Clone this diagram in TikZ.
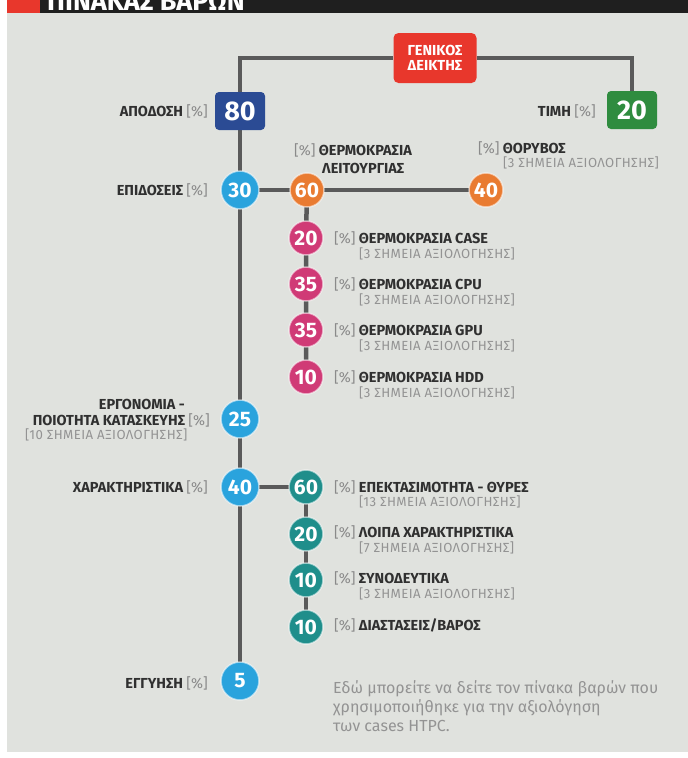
\documentclass[tikz,border=0pt]{standalone}
\usepackage{fontspec}
\setmainfont{Fira Sans}
\definecolor{panel}{HTML}{E0E2DE}
\definecolor{linegray}{HTML}{5A5A5A}
\definecolor{genred}{HTML}{E8372C}
\definecolor{dblue}{HTML}{2B4B94}
\definecolor{dgreen}{HTML}{2F8C3F}
\definecolor{lblue}{HTML}{2AA3DD}
\definecolor{orng}{HTML}{E97B31}
\definecolor{magen}{HTML}{D03A76}
\definecolor{teal2}{HTML}{1F8E8B}
\definecolor{txtdark}{HTML}{303030}
\definecolor{pctgray}{HTML}{8A8A8A}
\definecolor{subgray}{HTML}{939393}
\newcommand{\pct}{\textcolor{pctgray}{\mdseries[\%]}}
\pgfdeclarelayer{bg}
\pgfdeclarelayer{lines}
\pgfsetlayers{bg,lines,main}
\tikzset{
  conn/.style={draw=linegray, line width=4.5pt},
  numc/.style={circle, inner sep=0pt, text=white, draw=white, draw opacity=0.55, line width=1.5pt,
    font=\bfseries\fontsize{21}{21}\selectfont},
  mainc/.style={numc, fill=lblue, minimum size=38pt},
  orc/.style={numc, fill=orng, minimum size=34pt},
  pkc/.style={numc, fill=magen, minimum size=34pt},
  tlc/.style={numc, fill=teal2, minimum size=34pt},
  sqbox/.style={rounded corners=4pt, inner sep=0pt, minimum width=50pt, minimum height=38pt,
    text=white, font=\bfseries\fontsize{27}{27}\selectfont},
  lab/.style={inner sep=0pt, text=txtdark, font=\bfseries\fontsize{14.5}{16}\selectfont},
  sublab/.style={inner sep=0pt, text=subgray, font=\fontsize{13.2}{15}\selectfont\addfontfeatures{LetterSpace=3}},
  capt/.style={inner sep=0pt, text=subgray, font=\fontsize{16}{18}\selectfont, anchor=west},
}
\begin{document}
\begin{tikzpicture}[x=1pt, y=-1pt]
\useasboundingbox (0,0) rectangle (688,758);
% panel and header
\begin{pgfonlayer}{bg}
\fill[panel] (7,13) rectangle (688,752);
\fill[black!88] (7,0) rectangle (688,13);
\fill[genred] (7,0) rectangle (40,13);
\end{pgfonlayer}
\begin{scope}
  \clip (40,0) rectangle (688,13);
  \node[anchor=base west, inner sep=0pt, text=white, font=\bfseries\fontsize{27}{27}\selectfont] (title) at (47,10) {ΠΙΝΑΚΑΣ ΒΑΡΩΝ};
\end{scope}

% top level
\node[fill=genred, rounded corners=5pt, minimum width=83pt, minimum height=50pt, inner sep=0pt,
  text=white, align=center, font=\bfseries\fontsize{14.5}{15.5}\selectfont] (gen) at (435,58) {ΓΕΝΙΚΟΣ\\ΔΕΙΚΤΗΣ};
\node[sqbox, fill=dblue] (apod) at (240,111) {80};
\node[sqbox, fill=dgreen] (timi) at (632,110) {20};
\node[lab, anchor=east] (lapod) at (208,111) {ΑΠΟΔΟΣΗ \pct};
\node[lab, anchor=east] (ltimi) at (596,111) {ΤΙΜΗ \pct};

% main column
\node[mainc] (c30) at (240,190) {30};
\node[mainc] (c25) at (240,419) {25};
\node[mainc] (c40) at (240,487) {40};
\node[mainc] (c5) at (240,681) {5};
\node[lab, anchor=east] (l30) at (208,190) {ΕΠΙΔΟΣΕΙΣ \pct};
\node[lab, anchor=east] (l25a) at (185,404) {ΕΡΓΟΝΟΜΙΑ -};
\node[lab, anchor=east] (l25b) at (210,420) {ΠΟΙΟΤΗΤΑ ΚΑΤΑΣΚΕΥΗΣ \pct};
\node[sublab, anchor=west] (l25c) at (25,435) {[10 ΣΗΜΕΙΑ ΑΞΙΟΛΟΓΗΣΗΣ]};
\node[lab, anchor=east] (l40) at (208,487) {ΧΑΡΑΚΤΗΡΙΣΤΙΚΑ \pct};
\node[lab, anchor=east] (l5) at (208,683) {ΕΓΓΥΗΣΗ \pct};

% orange
\node[orc] (o60) at (307,190) {60};
\node[orc] (o40) at (486,190) {40};
\node[lab, anchor=west] (lo60a) at (294,150) {\pct{} ΘΕΡΜΟΚΡΑΣΙΑ};
\node[lab, anchor=west] (lo60b) at (322,168) {ΛΕΙΤΟΥΡΓΙΑΣ};
\node[lab, anchor=west] (lo40a) at (478,148) {\pct{} ΘΟΡΥΒΟΣ};
\node[sublab, anchor=west] (lo40b) at (503,163) {[3 ΣΗΜΕΙΑ ΑΞΙΟΛΟΓΗΣΗΣ]};

% pink
\node[pkc] (p20) at (306,238) {20};
\node[pkc] (p35a) at (306,284) {35};
\node[pkc] (p35b) at (306,330) {35};
\node[pkc] (p10) at (306,377) {10};
\node[lab, anchor=west] (lp20) at (334,238) {\pct{} ΘΕΡΜΟΚΡΑΣΙΑ CASE};
\node[sublab, anchor=west] (sp20) at (359,254) {[3 ΣΗΜΕΙΑ ΑΞΙΟΛΟΓΗΣΗΣ]};
\node[lab, anchor=west] (lp35a) at (334,284) {\pct{} ΘΕΡΜΟΚΡΑΣΙΑ CPU};
\node[sublab, anchor=west] (sp35a) at (359,300) {[3 ΣΗΜΕΙΑ ΑΞΙΟΛΟΓΗΣΗΣ]};
\node[lab, anchor=west] (lp35b) at (334,330) {\pct{} ΘΕΡΜΟΚΡΑΣΙΑ GPU};
\node[sublab, anchor=west] (sp35b) at (359,346) {[3 ΣΗΜΕΙΑ ΑΞΙΟΛΟΓΗΣΗΣ]};
\node[lab, anchor=west] (lp10) at (334,377) {\pct{} ΘΕΡΜΟΚΡΑΣΙΑ HDD};
\node[sublab, anchor=west] (sp10) at (359,393) {[3 ΣΗΜΕΙΑ ΑΞΙΟΛΟΓΗΣΗΣ]};

% teal
\node[tlc] (t60) at (306,487) {60};
\node[tlc] (t20) at (306,534) {20};
\node[tlc] (t10a) at (306,580) {10};
\node[tlc] (t10b) at (306,627) {10};
\node[lab, anchor=west] (lt60) at (334,487) {\pct{} ΕΠΕΚΤΑΣΙΜΟΤΗΤΑ - ΘΥΡΕΣ};
\node[sublab, anchor=west] (st60) at (359,502) {[13 ΣΗΜΕΙΑ ΑΞΙΟΛΟΓΗΣΗΣ]};
\node[lab, anchor=west] (lt20) at (334,532) {\pct{} ΛΟΙΠΑ ΧΑΡΑΚΤΗΡΙΣΤΙΚΑ};
\node[sublab, anchor=west] (st20) at (359,548) {[7 ΣΗΜΕΙΑ ΑΞΙΟΛΟΓΗΣΗΣ]};
\node[lab, anchor=west] (lt10a) at (334,578) {\pct{} ΣΥΝΟΔΕΥΤΙΚΑ};
\node[sublab, anchor=west] (st10a) at (359,594) {[3 ΣΗΜΕΙΑ ΑΞΙΟΛΟΓΗΣΗΣ]};
\node[lab, anchor=west] (lt10b) at (334,625) {\pct{} ΔΙΑΣΤΑΣΕΙΣ/ΒΑΡΟΣ};

% caption
\node[capt] (cap1) at (333,689) {Εδώ μπορείτε να δείτε τον πίνακα βαρών που};
\node[capt] (cap2) at (333,707.5) {χρησιμοποιήθηκε για την αξιολόγηση};
\node[capt] (cap3) at (333,726) {των cases HTPC.};

% connectors
\begin{pgfonlayer}{lines}
  \draw[conn] (apod.center) |- (gen.west);
  \draw[conn] (gen.east) -| (timi.center);
  \draw[conn] (apod.center) -- (c30.center) -- (c25.center) -- (c40.center) -- (c5.center);
  \draw[conn] (c30.center) -- (o60.center) -- (o40.center);
  \draw[conn] (o60.center) -- (p20.center) -- (p35a.center) -- (p35b.center) -- (p10.center);
  \draw[conn] (c40.center) -- (t60.center) -- (t20.center) -- (t10a.center) -- (t10b.center);
\end{pgfonlayer}
\end{tikzpicture}
\end{document}
